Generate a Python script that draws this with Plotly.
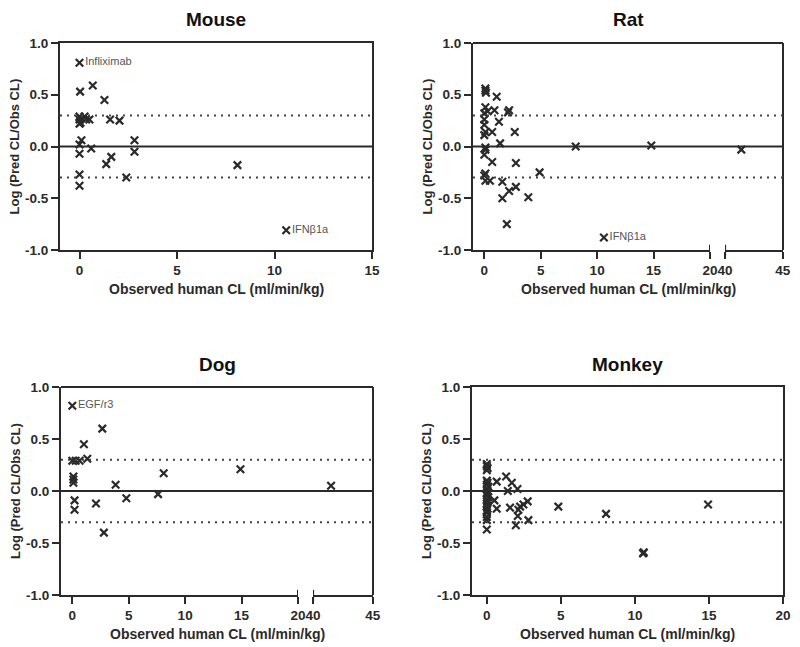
import plotly.graph_objects as go

# observed human CL (ml/min/kg) and log(pred/obs) per species
mouse_x = [0.0, 0.03, 0.68, 1.28, 0.0, 0.0, 0.26, 0.34, 0.51, 0.0, 0.05, 1.57, 2.05,
           0.1, 0.0, 0.0, 0.6, 2.82, 2.82, 1.63, 1.37, 2.4, 0.0, 0.0, 8.1, 10.6]
mouse_y = [0.81, 0.53, 0.59, 0.45, 0.26, 0.29, 0.29, 0.26, 0.26, 0.22, 0.23, 0.26, 0.25,
           0.06, 0.02, -0.07, -0.02, 0.06, -0.05, -0.10, -0.17, -0.30, -0.27, -0.38, -0.18, -0.81]
mouse_text = ["Infliximab"] + [""] * 24 + ["IFNβ1a"]

rat_x = [0.1, 0.1, 0.15, 1.1, 0.1, 0.3, 0.9, 0.0, 2.1, 2.2, 1.3, 0.0, 0.0, 0.1, 0.7, 2.7,
         0.0, 1.4, 0.1, 0.1, 0.0, 0.7, 2.8, 4.9, 0.1, 0.0, 0.1, 0.5, 1.6, 2.8, 2.2, 1.6,
         3.9, 2.0, 8.1, 14.8, 41.4, 10.6]
rat_y = [0.56, 0.54, 0.52, 0.48, 0.38, 0.34, 0.35, 0.32, 0.33, 0.35, 0.24, 0.26, 0.21, 0.14,
         0.14, 0.14, 0.11, 0.03, -0.01, -0.03, -0.08, -0.15, -0.16, -0.25, -0.26, -0.28,
         -0.33, -0.33, -0.34, -0.39, -0.43, -0.50, -0.49, -0.75, 0.0, 0.01, -0.03, -0.88]
rat_text = [""] * 37 + ["IFNβ1a"]

dog_x = [0.0, 2.66, 1.03, 0.0, 0.3, 0.65, 1.33, 0.1, 0.1, 0.1, 8.1, 3.84, 4.79, 7.6,
         2.1, 0.2, 0.2, 2.8, 14.9, 41.5]
dog_y = [0.82, 0.60, 0.45, 0.29, 0.29, 0.29, 0.31, 0.14, 0.11, 0.08, 0.17, 0.06, -0.07,
         -0.03, -0.12, -0.09, -0.18, -0.40, 0.21, 0.05]
dog_text = ["EGF/r3"] + [""] * 19

monkey_x = [0.0, 0.0, 0.05, 0.0, 0.0, 0.05, 0.0, 0.1, 0.0, 0.05, 0.0, 0.0, 0.1, 0.0, 0.05,
            0.0, 0.0, 0.05, 0.0, 0.0, 0.0, 0.0, 0.0, 0.67, 1.3, 1.69, 1.42, 2.07, 0.51, 0.67,
            1.57, 2.13, 2.25, 2.47, 2.76, 2.09, 2.81, 1.96, 4.83, 8.05, 10.6, 10.55, 14.94]
monkey_y = [0.26, 0.24, 0.22, 0.20, 0.10, 0.08, 0.06, 0.04, 0.02, 0.0, -0.02, -0.04, -0.06,
            -0.08, -0.10, -0.12, -0.15, -0.17, -0.19, -0.21, -0.25, -0.28, -0.37, 0.09, 0.14,
            0.08, 0.0, 0.02, -0.09, -0.17, -0.16, -0.18, -0.15, -0.13, -0.10, -0.24, -0.28,
            -0.33, -0.15, -0.22, -0.59, -0.60, -0.13]
monkey_text = [""] * 43

y_ticks = [-1.0, -0.5, 0.0, 0.5, 1.0]
y_ticktext = ["-1.0", "-0.5", "0.0", "0.5", "1.0"]
solid_ref = [0.0]
dotted_ref = [0.3, -0.3]

FONT = "Liberation Sans, Arial, sans-serif"
INK = "#2a2a2a"
W, H = 800, 647
PAGE_OFF = 8  # default body margin of the html page
tickfont = dict(family=FONT, size=13.5, color=INK, weight="bold")


def px(x):
    return (x - PAGE_OFF) / W


def py(y):
    return 1 - (y - PAGE_OFF) / H


fig = go.Figure()


def add_points(xs, ys, texts, xa, ya):
    fig.add_trace(go.Scatter(
        x=xs, y=ys, text=texts, mode="markers+text", xaxis=xa, yaxis=ya,
        textposition="middle right",
        textfont=dict(family=FONT, size=11, color="#555"),
        marker=dict(symbol="x-thin", size=7.5, line=dict(width=2.2, color=INK)),
        showlegend=False, cliponaxis=False))


def axis_x(domain, anchor, rng, ticks, mirror=False):
    return dict(domain=domain, anchor=anchor, range=rng, tickvals=ticks,
                showline=True, linecolor=INK, linewidth=2, mirror=mirror,
                ticks="outside", ticklen=7, tickwidth=2, tickcolor=INK,
                tickfont=tickfont, showgrid=False, zeroline=False, automargin=False)


def axis_y(domain, anchor, mirror=False):
    return dict(domain=domain, anchor=anchor, range=[-1, 1], tickvals=y_ticks,
                ticktext=y_ticktext, showline=True, linecolor=INK, linewidth=2,
                mirror=mirror, ticks="outside", ticklen=7, tickwidth=2, tickcolor=INK,
                tickfont=tickfont, showgrid=False, zeroline=False, automargin=False)


top_row = [py(250), py(43)]
bot_row = [py(595), py(387)]

panels = [
    # name, xs, ys, texts, y axis, y domain, segments [(axis, domain, range, ticks)]
    ("Mouse", mouse_x, mouse_y, mouse_text, "y", top_row,
     [("x", [px(60), px(372)], [-1, 15], [0, 5, 10, 15])]),
    ("Rat", rat_x, rat_y, rat_text, "y2", top_row,
     [("x2", [px(473), px(710)], [-1, 20], [0, 5, 10, 15, 20]),
      ("x3", [px(725), px(783)], [39.99, 45.01], [40, 45])]),
    ("Dog", dog_x, dog_y, dog_text, "y3", bot_row,
     [("x4", [px(61), px(298)], [-1, 20], [0, 5, 10, 15, 20]),
      ("x5", [px(313), px(373)], [39.99, 45.01], [40, 45])]),
    ("Monkey", monkey_x, monkey_y, monkey_text, "y4", bot_row,
     [("x6", [px(472), px(783)], [-1, 20], [0, 5, 10, 15, 20])]),
]

layout_axes = {}
annotations = []
shapes = []
for name, xs, ys, texts, ya, ydom, segs in panels:
    single = len(segs) == 1
    left = segs[0][1][0]
    right = segs[-1][1][1]
    layout_axes["yaxis" + ya[1:]] = axis_y(ydom, segs[0][0], mirror=single)
    for i, (xa, dom, rng, ticks) in enumerate(segs):
        layout_axes["xaxis" + xa[1:]] = axis_x(dom, ya, rng, ticks, mirror=single)
        lo, hi = rng
        sel = [k for k, v in enumerate(xs) if lo - 0.5 <= v <= hi]
        add_points([xs[k] for k in sel], [ys[k] for k in sel],
                   [texts[k] for k in sel], xa, ya)
        if not single:
            # break marker: end tick crossing the axis line
            end = ticks[-1] if i == 0 else ticks[0]
            shapes.append(dict(type="line", xref=xa, yref=ya + " domain", x0=end, x1=end,
                               y0=-0.03, y1=0.025, line=dict(color=INK, width=2)))
    if not single:
        # frame top and right side across the broken axis
        shapes.append(dict(type="line", xref="paper", yref="paper", x0=left, x1=right,
                           y0=ydom[1], y1=ydom[1], line=dict(color=INK, width=2)))
        shapes.append(dict(type="line", xref="paper", yref="paper", x0=right, x1=right,
                           y0=ydom[0], y1=ydom[1], line=dict(color=INK, width=2)))
    for v in solid_ref:
        shapes.append(dict(type="line", xref="paper", yref=ya, x0=left, x1=right,
                           y0=v, y1=v, line=dict(color=INK, width=2)))
    for v in dotted_ref:
        shapes.append(dict(type="line", xref="paper", yref=ya, x0=left, x1=right,
                           y0=v, y1=v, line=dict(color="#444", width=2, dash="2px,5px")))
    cx = (left + right) / 2
    cy = (ydom[0] + ydom[1]) / 2
    annotations.append(dict(text=name, x=cx, y=ydom[1] + 23 / H, xref="paper", yref="paper",
                            xanchor="center", yanchor="middle", showarrow=False, borderpad=0,
                            font=dict(family=FONT, size=19, color="#111", weight="bold")))
    annotations.append(dict(text="Observed human CL (ml/min/kg)", x=cx, y=ydom[0] - 39 / H,
                            xref="paper", yref="paper", xanchor="center", yanchor="middle",
                            showarrow=False,
                            font=dict(family=FONT, size=14, color=INK, weight="bold")))
    annotations.append(dict(text="Log (Pred CL/Obs CL)", x=left - 46 / W, y=cy,
                            xref="paper", yref="paper", xanchor="center", yanchor="middle",
                            showarrow=False, textangle=-90,
                            font=dict(family=FONT, size=13, color=INK, weight="bold")))

fig.update_layout(
    width=W, height=H,
    margin=dict(l=0, r=0, t=0, b=0),
    paper_bgcolor="white", plot_bgcolor="white",
    annotations=annotations, shapes=shapes,
    **layout_axes,
)

fig.write_html("out.html")
